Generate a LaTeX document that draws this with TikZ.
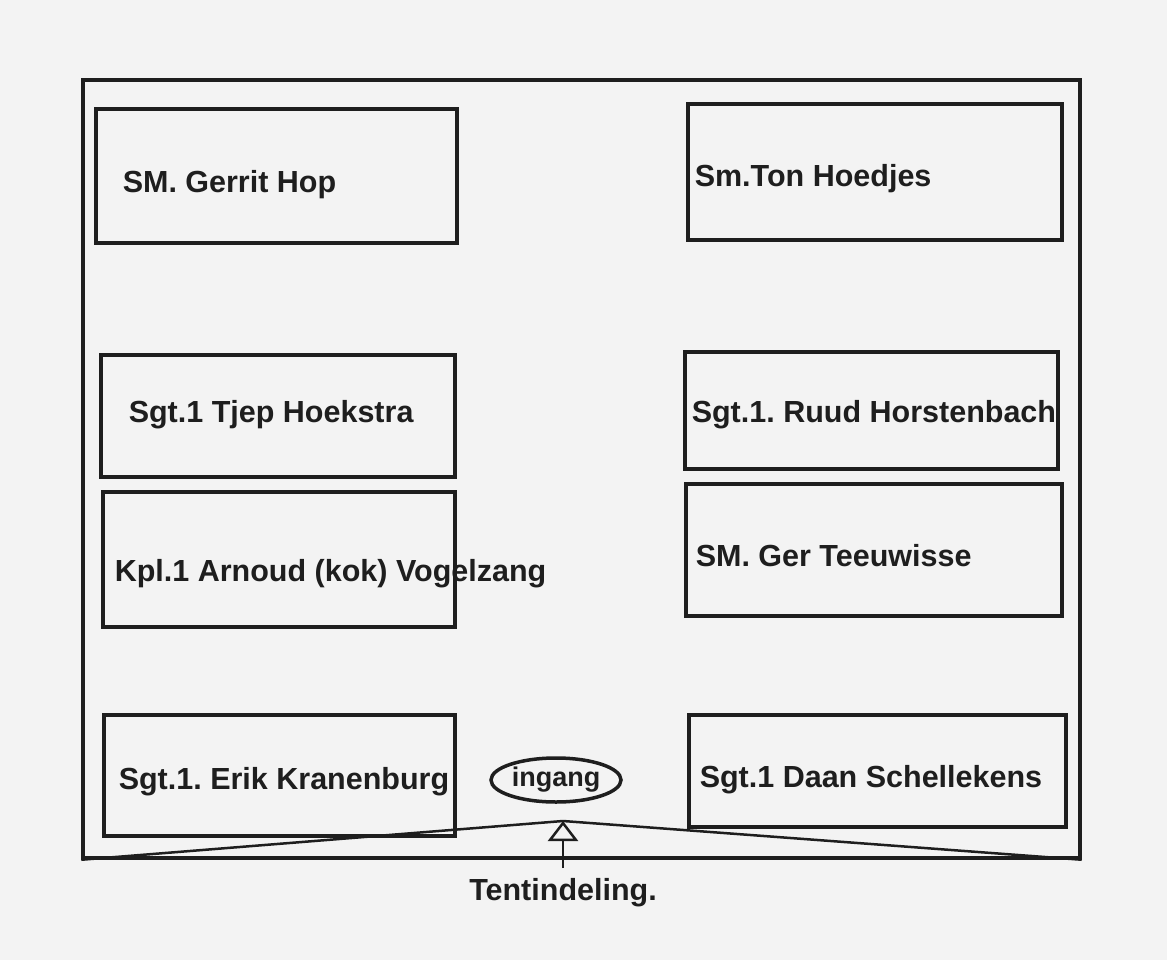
\documentclass[tikz,border=0pt]{standalone}
\usepackage{fontspec}
\setmainfont{Liberation Sans}
\usetikzlibrary{positioning}
\usetikzlibrary{shapes.geometric}
\usetikzlibrary{arrows.meta}
\definecolor{paper}{RGB}{243,243,243}
\definecolor{ink}{RGB}{30,30,30}
\frenchspacing

\begin{document}
\begin{tikzpicture}[x=1pt,y=-1pt,line width=3.5pt,draw=ink,text=ink,font=\fontsize{30.5}{34}\selectfont\bfseries]
\tikzstyle{tent}=[draw, inner sep=0pt]
\tikzstyle{bed}=[draw, inner sep=0pt]
\tikzstyle{naam}=[anchor=west, inner sep=0pt]
\fill[paper] (0,0) rectangle (1167,960);
\useasboundingbox (0,0) rectangle (1167,960);

\node[tent, minimum width=997pt, minimum height=778pt] (tent) at (581.5,469) {};

% linkerkant
\node[bed, minimum width=361pt, minimum height=134pt] (hop) at (276.5,176) {};
\node[bed, minimum width=354pt, minimum height=122pt] (hoekstra) at (278,416) {};
\node[bed, minimum width=352pt, minimum height=135pt] (vogelzang) at (279,559.5) {};
\node[bed, minimum width=351pt, minimum height=121pt] (kranenburg) at (279.5,775.5) {};
% rechterkant
\node[bed, minimum width=374pt, minimum height=136pt] (hoedjes) at (875,172) {};
\node[bed, minimum width=373pt, minimum height=117pt] (horstenbach) at (871.5,410.5) {};
\node[bed, minimum width=376pt, minimum height=132pt] (teeuwisse) at (874,550) {};
\node[bed, minimum width=377pt, minimum height=112pt] (schellekens) at (877.5,771) {};

\node[naam] (thop) at (121,185) {SM. Gerrit Hop};
\node[naam] (thoekstra) at (127,415) {Sgt.1 Tjep Hoekstra};
\node[naam] (tvogelzang) at (113,574) {Kpl.1 Arnoud (kok) Vogelzang};
\node[naam] (tkranenburg) at (117,782) {Sgt.1. Erik Kranenburg};
\node[naam] (thoedjes) at (693,179) {Sm.Ton Hoedjes};
\node[naam] (thorstenbach) at (690,415) {Sgt.1. Ruud Horstenbach};
\node[naam] (tteeuwisse) at (694,556) {SM. Ger Teeuwisse};
\node[naam] (tschellekens) at (698,780) {Sgt.1 Daan Schellekens};

\node[draw, ellipse, inner sep=0pt, minimum width=130pt, minimum height=44pt, font=\fontsize{27}{30}\selectfont\bfseries] (ingang) at (556,780) {ingang};

\coordinate (nok) at (563,821);
\coordinate (voet) at (563,868);
\draw[line width=2.5pt] (tent.south west) -- (nok) -- (tent.south east);
\draw[line width=2.5pt, -{Triangle[open, length=20pt, width=30pt]}] (voet) -- (nok);

\node (titel) at (563,893) {Tentindeling.};
\end{tikzpicture}
\end{document}
